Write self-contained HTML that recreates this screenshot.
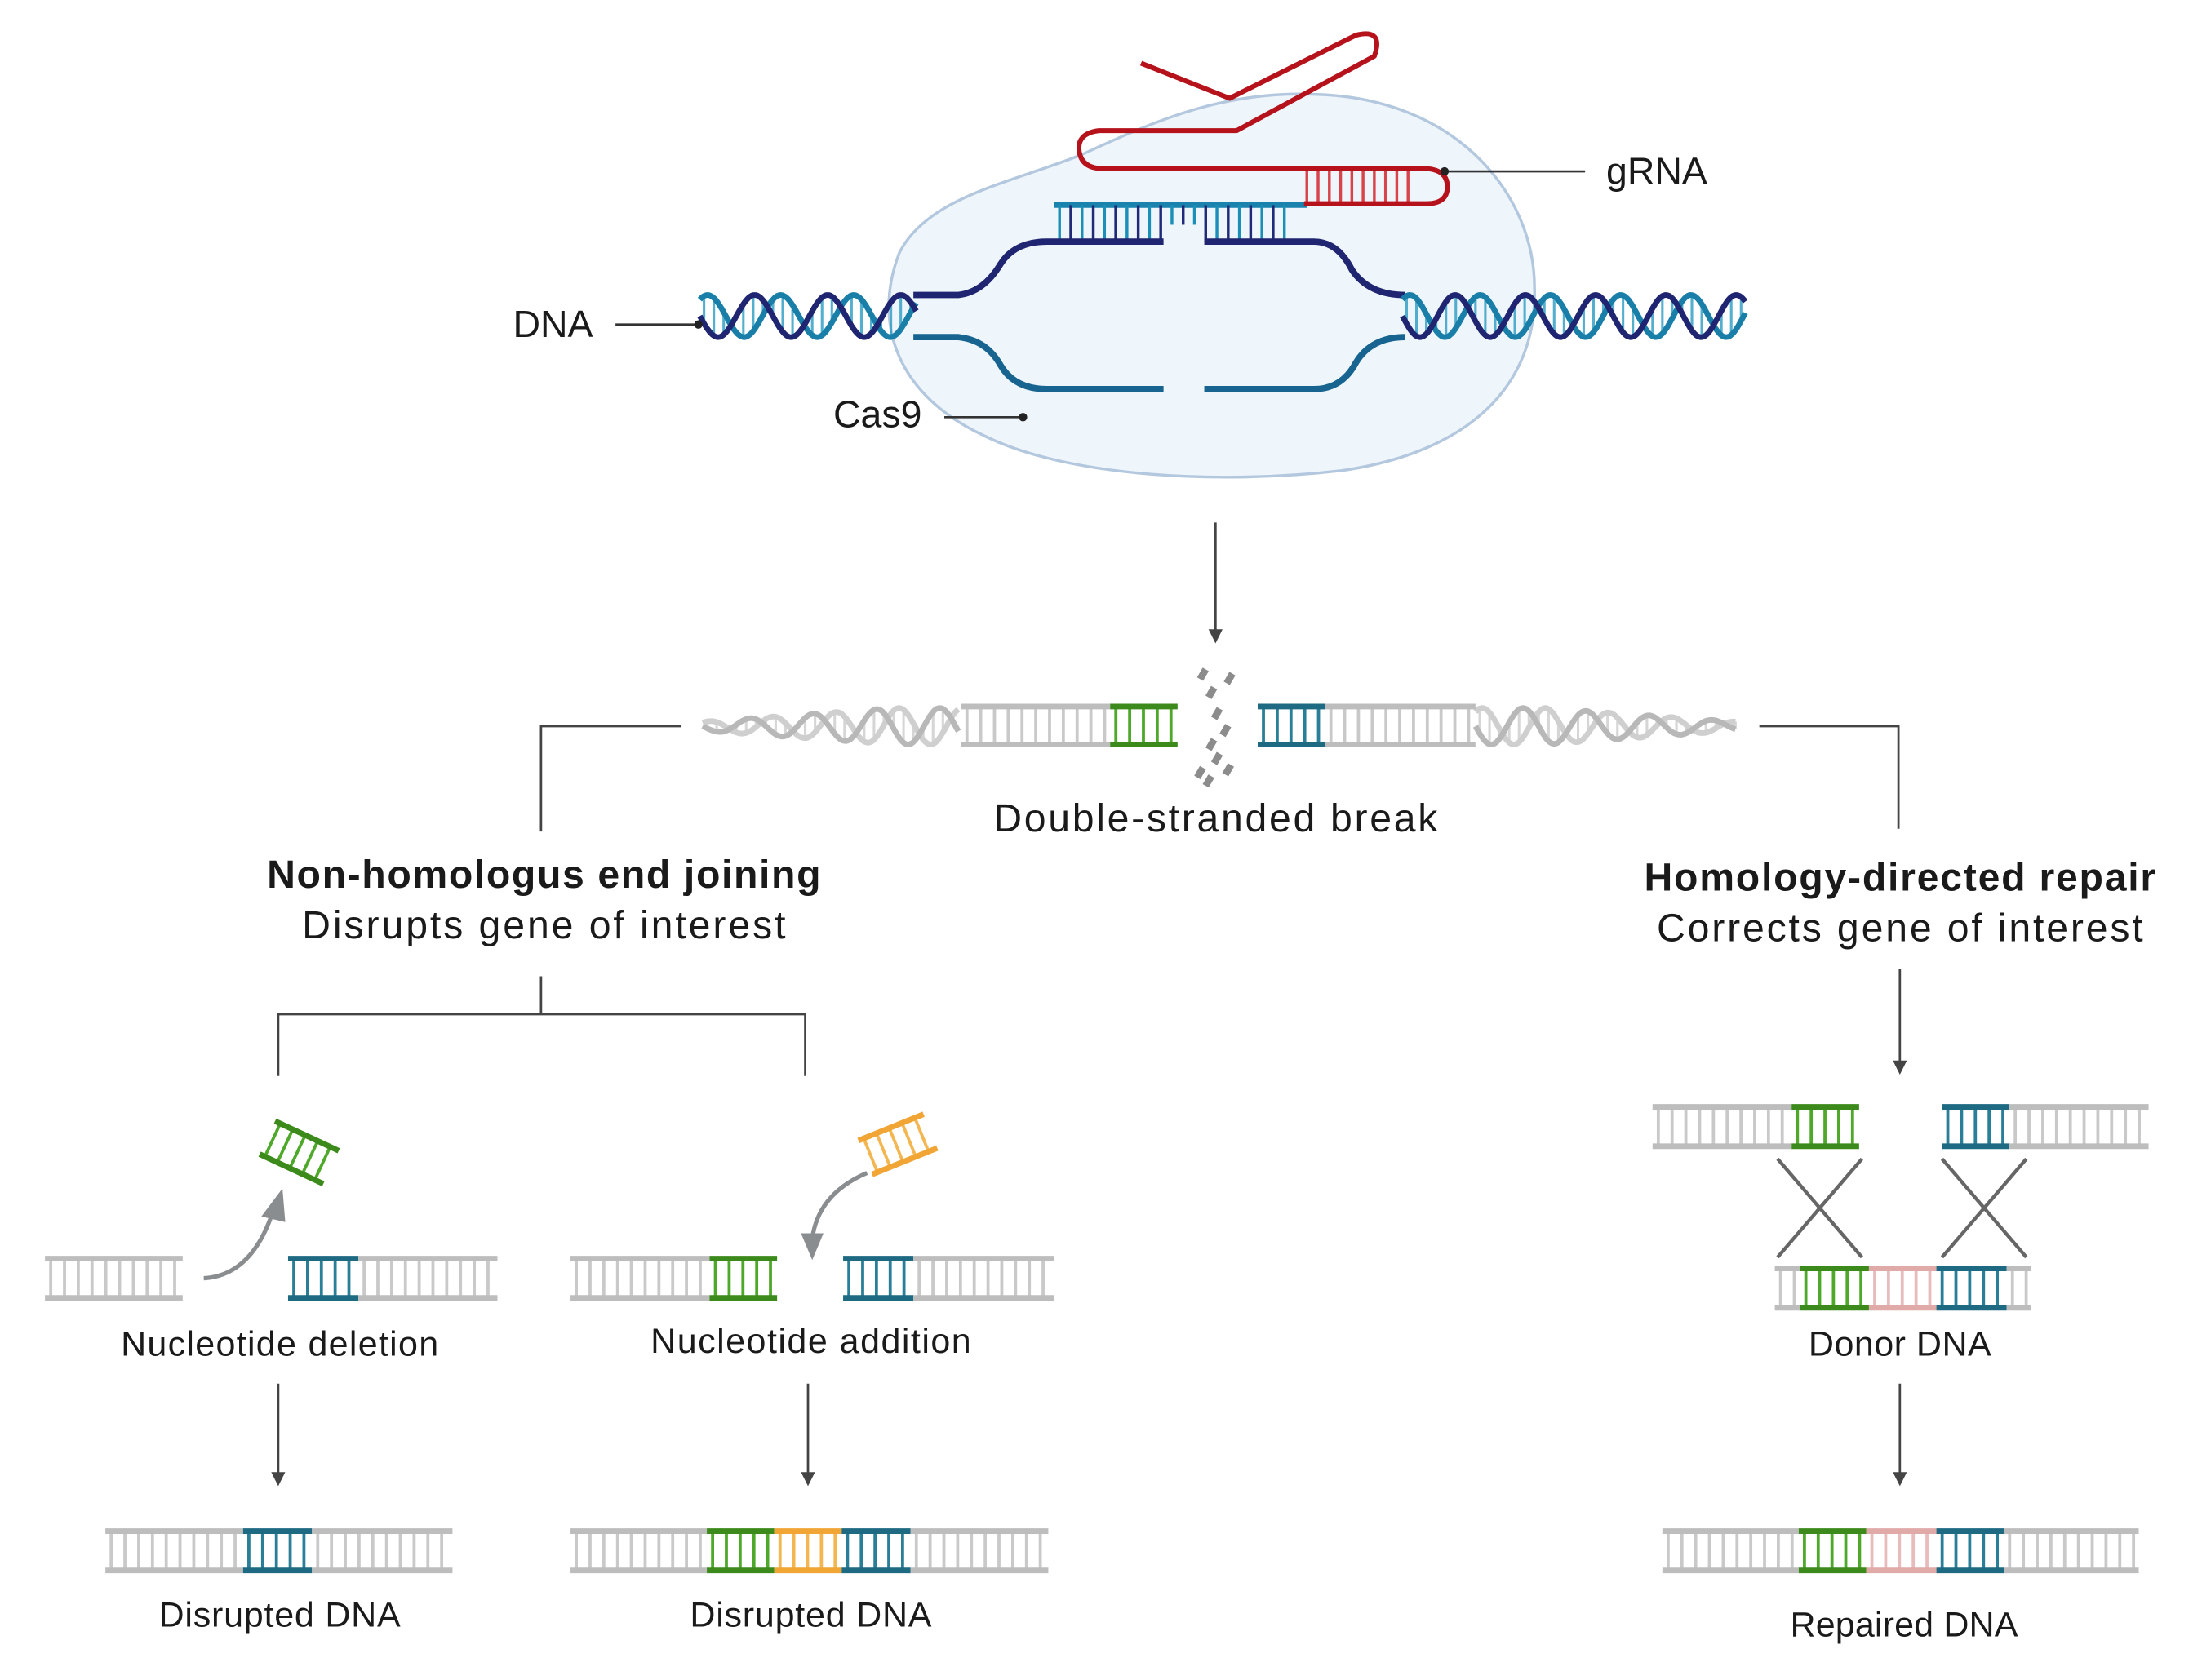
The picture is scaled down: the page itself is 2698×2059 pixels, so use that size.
<!DOCTYPE html>
<html><head><meta charset="utf-8"><style>
html,body{margin:0;padding:0;background:#fff;}
svg{display:block;}
text{font-family:"Liberation Sans",sans-serif;fill:#1a1a1a;}
</style></head><body>
<svg id="s" width="2698" height="2059" viewBox="0 0 1567 1196" preserveAspectRatio="none" xmlns="http://www.w3.org/2000/svg">
<path d="M640,180 C660,140 720,130 770,110 C830,82 880,62 950,68 C1040,76 1092,140 1092,205 C1094,275 1045,322 955,335 C870,345 760,340 700,310 C640,282 620,232 640,180 Z" fill="#eef5fb" stroke="#b3c8de" stroke-width="2"/>
<g id="top"></g>
<path d="M812,45 L875,70 L965,25 Q985,20 978,40 L880,93 L782,93 Q766,95 768,108 Q770,120 785,120 L1015,120 Q1030,121 1030,133 Q1030,145 1015,145 L928,145" fill="none" stroke="#b5121b" stroke-width="3.5" stroke-linejoin="round"/>
<text x="365" y="240" font-size="27">DNA</text>
<line x1="438" y1="231" x2="497" y2="231" stroke="#333" stroke-width="1.5"/><circle cx="497" cy="231" r="3" fill="#222"/>
<text x="593" y="304" font-size="27">Cas9</text>
<line x1="672" y1="297" x2="728" y2="297" stroke="#333" stroke-width="1.5"/><circle cx="728" cy="297" r="3" fill="#222"/>
<text x="1143" y="131" font-size="27">gRNA</text>
<line x1="1028" y1="122" x2="1128" y2="122" stroke="#333" stroke-width="1.5"/><circle cx="1028" cy="122" r="3" fill="#222"/>
<g id="arrows" stroke="#444" stroke-width="1.6" fill="none"></g>
<g id="mid"></g>
<text x="865" y="592" font-size="28" text-anchor="middle" textLength="316">Double-stranded break</text>
<g stroke="#444" stroke-width="1.6" fill="none">
<polyline points="485,517 385,517 385,592"/>
<polyline points="1252,517 1351,517 1351,590"/>
<polyline points="385,695 385,722"/>
<polyline points="198,766 198,722 573,722 573,766"/>
<line x1="1265" y1="825" x2="1325" y2="895" stroke="#666" stroke-width="2.5"/>
<line x1="1325" y1="825" x2="1265" y2="895" stroke="#666" stroke-width="2.5"/>
<line x1="1382" y1="825" x2="1442" y2="895" stroke="#666" stroke-width="2.5"/>
<line x1="1442" y1="825" x2="1382" y2="895" stroke="#666" stroke-width="2.5"/>
</g>
<text x="387" y="632" font-size="28" font-weight="bold" text-anchor="middle" textLength="394">Non-homologus end joining</text>
<text x="387" y="668" font-size="28" text-anchor="middle" textLength="344">Disrupts gene of interest</text>
<text x="1352" y="634" font-size="28" font-weight="bold" text-anchor="middle" textLength="364">Homology-directed repair</text>
<text x="1352" y="670" font-size="28" text-anchor="middle" textLength="346">Corrects gene of interest</text>
<g id="lad"></g>
<path d="M145,910 Q180,908 195,860" fill="none" stroke="#8a8d90" stroke-width="3"/>
<polygon points="186,866 201,846 203,870" fill="#8a8d90"/>
<path d="M617,835 Q582,850 578,882" fill="none" stroke="#8a8d90" stroke-width="3"/>
<polygon points="570,878 586,878 578,897" fill="#8a8d90"/>
<text x="199" y="965" font-size="25" text-anchor="middle" textLength="226">Nucleotide deletion</text>
<text x="577" y="963" font-size="25" text-anchor="middle" textLength="228">Nucleotide addition</text>
<text x="199" y="1158" font-size="25" text-anchor="middle" textLength="172">Disrupted DNA</text>
<text x="577" y="1158" font-size="25" text-anchor="middle" textLength="172">Disrupted DNA</text>
<text x="1352" y="965" font-size="25" text-anchor="middle" textLength="130">Donor DNA</text>
<text x="1355" y="1165" font-size="25" text-anchor="middle" textLength="162">Repaired DNA</text>
</svg>
<script>
var NS="http://www.w3.org/2000/svg";
function el(p,t,a){var e=document.createElementNS(NS,t);for(var k in a)e.setAttribute(k,a[k]);document.getElementById(p).appendChild(e);return e;}
function ladder(p,x1,x2,y,h,c,rc,rot,cx,cy){
  var g=el(p,"g",rot?{transform:"rotate("+rot+" "+cx+" "+cy+")"}:{});
  var id="g"+Math.random().toString(36).slice(2);g.id=id;
  el(id,"line",{x1:x1+3,y1:y+h/2,x2:x2,y2:y+h/2,stroke:rc||c,"stroke-width":h,"stroke-dasharray":"2.2 7.6"});
  el(id,"line",{x1:x1,y1:y,x2:x2,y2:y,stroke:c,"stroke-width":4});
  el(id,"line",{x1:x1,y1:y+h,x2:x2,y2:y+h,stroke:c,"stroke-width":4});
}
var G="#bdbdbd",GR="#c9c9c9",GN="#3d8a1c",GNr="#4ea82a",TL="#1d6a82",TLr="#2a7f98",OR="#f0a535",ORr="#f4b650",PK="#dfaaa8",PKr="#e8bcbc";
el("top","line",{x1:750,y1:146,x2:930,y2:146,stroke:"#1a83ad","stroke-width":4});
for(var x=754;x<918;x+=8){var g=(x>826&&x<858);el("top","line",{x1:x,y1:146,x2:x,y2:g?160:172,stroke:x%16<8?"#1b8fb8":"#1f2a78","stroke-width":2});}
for(var x=930;x<1006;x+=8){el("top","line",{x1:x,y1:120,x2:x,y2:145,stroke:"#d9434a","stroke-width":2});}
el("top","path",{d:"M650,210 L682,210 Q700,208 712,188 Q722,172 745,172 L828,172 M857,172 L935,172 Q952,172 962,192 Q974,210 1000,210",fill:"none",stroke:"#1f2570","stroke-width":4.5});
el("top","path",{d:"M650,240 L682,240 Q702,242 712,260 Q722,277 745,277 L828,277 M857,277 L935,277 Q955,277 965,258 Q976,240 1000,240",fill:"none",stroke:"#16648f","stroke-width":4.5});
function helix(p,x0,x1,cy,A,P,c1,c2,rc,fade){
  var d1="",d2="";
  for(var x=x0;x<=x1;x+=1){var a=A;if(fade){var t=fade(x);a=A*t;}
    var y1=cy+a*Math.sin(2*Math.PI*(x-x0)/P),y2=cy-a*Math.sin(2*Math.PI*(x-x0)/P+0.9);
    d1+=(x==x0?"M":"L")+x+","+y1.toFixed(1);d2+=(x==x0?"M":"L")+x+","+y2.toFixed(1);
    if((x-x0)%7==3){el(p,"line",{x1:x,y1:y1,x2:x,y2:y2,stroke:rc,"stroke-width":1.8,opacity:0.8});}
  }
  el(p,"path",{d:d2,fill:"none",stroke:c2,"stroke-width":4});
  el(p,"path",{d:d1,fill:"none",stroke:c1,"stroke-width":4});
}
helix("top",498,652,225,15,52,"#1f2570","#1a7fa8","#2a9cc4");
helix("top",998,1242,225,15,50,"#1f2570","#1a7fa8","#2a9cc4");
helix("mid",500,682,517,13,45,"#b8b8b8","#cfcfcf","#cccccc",function(x){return Math.min(1,0.25+(x-500)/180);});
helix("mid",1050,1235,517,13,45,"#b8b8b8","#cfcfcf","#cccccc",function(x){return Math.min(1,0.25+(1235-x)/180);});
ladder("mid",684,790,503,27,G,GR);
ladder("mid",790,838,503,27,GN,GNr);
ladder("mid",895,943,503,27,TL,TLr);
ladder("mid",943,1050,503,27,G,GR);
[[856,480],[875,483],[862,493],[866,508],[872,520],[862,530],[866,540],[854,550],[874,548],[860,556]].forEach(function(q){el("mid","rect",{x:q[0]-2.5,y:q[1]-4,width:5,height:8,fill:"#8c8c8c",transform:"rotate(30 "+q[0]+" "+q[1]+")"});});
function arr(x,y1,y2){el("arrows","line",{x1:x,y1:y1,x2:x,y2:y2-8});el("arrows","polygon",{points:(x-5)+","+(y2-10)+" "+(x+5)+","+(y2-10)+" "+x+","+y2,fill:"#444",stroke:"none"});}
arr(865,372,458);arr(198,985,1058);arr(575,985,1058);arr(1352,690,765);arr(1352,985,1058);
var L="lad",H=28;
ladder(L,32,130,896,H,G,GR);ladder(L,205,255,896,H,TL,TLr);ladder(L,255,354,896,H,G,GR);
ladder(L,406,505,896,H,G,GR);ladder(L,505,553,896,H,GN,GNr);ladder(L,600,650,896,H,TL,TLr);ladder(L,650,750,896,H,G,GR);
ladder(L,75,173,1090,H,G,GR);ladder(L,173,222,1090,H,TL,TLr);ladder(L,222,322,1090,H,G,GR);
ladder(L,406,503,1090,H,G,GR);ladder(L,503,551,1090,H,GN,GNr);ladder(L,551,599,1090,H,OR,ORr);ladder(L,599,648,1090,H,TL,TLr);ladder(L,648,746,1090,H,G,GR);
ladder(L,1176,1275,788,H,G,GR);ladder(L,1275,1323,788,H,GN,GNr);ladder(L,1382,1430,788,H,TL,TLr);ladder(L,1430,1529,788,H,G,GR);
ladder(L,1263,1281,903,H,G,GR);ladder(L,1281,1330,903,H,GN,GNr);ladder(L,1330,1378,903,H,PK,PKr);ladder(L,1378,1428,903,H,TL,TLr);ladder(L,1428,1445,903,H,G,GR);
ladder(L,1183,1280,1090,H,G,GR);ladder(L,1280,1328,1090,H,GN,GNr);ladder(L,1328,1378,1090,H,PK,PKr);ladder(L,1378,1426,1090,H,TL,TLr);ladder(L,1426,1522,1090,H,G,GR);
ladder(L,188,238,807,26,GN,GNr,25,212,820);
ladder(L,614,664,802,26,OR,ORr,-22,638,815);
</script>
</body></html>
